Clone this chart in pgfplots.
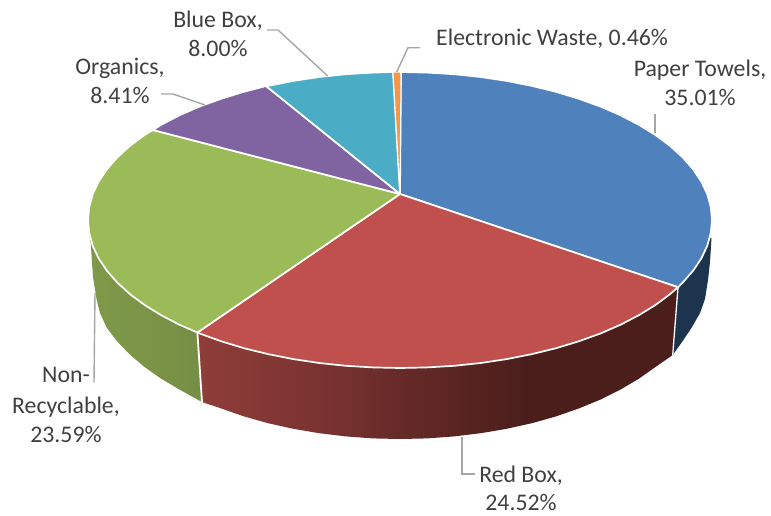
\documentclass[border=0pt]{standalone}
\usepackage{fontspec}
\setmainfont{Carlito}
\usepackage{pgfplots}
\pgfplotsset{compat=1.18}
\definecolor{lbl}{HTML}{404040}
\definecolor{lead}{HTML}{A6A6A6}
\definecolor{pBlue}{HTML}{4F81BD}
\definecolor{pRed}{HTML}{C0504D}
\definecolor{pGreen}{HTML}{9BBB59}
\definecolor{pPurple}{HTML}{8064A2}
\definecolor{pTeal}{HTML}{4BACC6}
\definecolor{pOrange}{HTML}{F79646}
\definecolor{sNavy}{HTML}{1D344F}
% wall of the red slice darkens from left to right
\pgfdeclarehorizontalshading{redwall}{100bp}{
  rgb(0bp)=(0.56,0.24,0.225); rgb(25bp)=(0.56,0.24,0.225);
  rgb(39bp)=(0.47,0.195,0.19); rgb(46bp)=(0.40,0.165,0.155);
  rgb(59bp)=(0.295,0.118,0.11); rgb(75bp)=(0.295,0.118,0.11);
  rgb(100bp)=(0.295,0.118,0.11)}
\begin{document}
\begin{tikzpicture}
\begin{axis}[
  hide axis, scale only axis, width=771pt, height=515pt,
  xmin=0, xmax=771, ymin=0, ymax=515, y dir=reverse, clip=false,
]
% invisible frame that fixes the page extent
\addplot[draw=none] coordinates {(0,0)(771,515)};

% pie walls
\addplot[fill=sNavy, draw=none] coordinates {
  (711.5,238)(710,262)(708,280)(705,299)(700,313)(692,327)(682,342)(672.7,355)(678,287.2)(600,240)(711.5,238)};
\addplot[shade, shading=redwall, draw=none] coordinates {
  (197.4,332.5)(202,402)(221,408.4)(244,416.4)(268.1,423.2)(293.3,428.8)(319.3,433.2)(345.8,436.4)(372.8,438.4)(400,439)
  (427.2,438.4)(454.2,436.4)(480.7,433.2)(506.7,428.8)(531.9,423.2)(556,416.4)(579,408.4)(600.6,399.5)(620.6,389.5)(639,378.6)(655.6,366.9)(672.7,355)
  (678,287.2)(400,300)(197.4,332.5)};
\addplot[shade, left color=pGreen!82!black, right color=pGreen!76!black, draw=none] coordinates {
  (88.5,232)(90.7,243)(93,277)(96.7,300)(100,313)(106.8,327.8)(117.2,341.4)(129.8,354.5)(144.4,366.9)(161,378.6)(179.4,389.5)(202,402)
  (197.4,332.5)(150,260)(88.5,232)};
% white seams on the walls
\addplot[white, line width=1.8pt] coordinates {(197.4,332.5)(202,402)};
\addplot[white, line width=1.3pt] coordinates {(678,287.2)(672.7,355)};

% pie top, one closed outline per slice
\addplot[fill=pBlue, draw=white, line width=1.7pt] coordinates {
  (400,194)(401,72)(427.2,72.6)(454.2,74.2)(480.7,77)(506.7,80.9)(531.9,85.9)(556,91.8)(579,98.8)(600.6,106.6)(620.6,115.3)(639,124.9)(655.6,135.1)(670.2,146)(682.8,157.5)(693.2,169.4)(701.4,181.7)(707.3,194.3)(710.8,207.1)(712,220)
  (710.8,232.9)(707.3,245.7)(701.4,258.3)(693.2,270.6)(682.8,282.5)(678,287.2)(400,194)};
\addplot[fill=pRed, draw=white, line width=1.7pt] coordinates {
  (400,194)(678,287.2)(670.2,294)(655.6,304.9)(639,315.1)(620.6,324.7)(600.6,333.4)(579,341.2)(556,348.2)(531.9,354.1)(506.7,359.1)(480.7,363)(454.2,365.8)(427.2,367.4)(400,368)
  (372.8,367.4)(345.8,365.8)(319.3,363)(293.3,359.1)(268.1,354.1)(244,348.2)(221,341.2)(199.4,333.4)(197.4,332.5)(400,194)};
\addplot[fill=pGreen, draw=white, line width=1.7pt] coordinates {
  (400,194)(197.4,332.5)(179.4,324.7)(161,315.1)(144.4,304.9)(129.8,294)(117.2,282.5)(106.8,270.6)(98.6,258.3)(92.7,245.7)(89.2,232.9)(88,220)
  (89.2,207.1)(92.7,194.3)(98.6,181.7)(106.8,169.4)(117.2,157.5)(129.8,146)(144.4,135.1)(153,130)(400,194)};
\addplot[fill=pPurple, draw=white, line width=1.7pt] coordinates {
  (400,194)(153,130)(161,124.9)(179.4,115.3)(199.4,106.6)(221,98.8)(244,91.8)(266,86)(400,194)};
\addplot[fill=pTeal, draw=white, line width=1.7pt] coordinates {
  (400,194)(266,86)(268.1,85.9)(293.3,80.9)(319.3,77)(345.8,74.2)(372.8,72.6)(393,72)(400,194)};
\addplot[fill=pOrange, draw=white, line width=1pt] coordinates {
  (400,194)(393,72)(401,72)(400,194)};

% leader lines
\addplot[lead, line width=1.4pt] coordinates {(396.7,72)(408,47.7)(420,47.7)};
\addplot[lead, line width=1.4pt] coordinates {(655,133)(655,114)};
\addplot[lead, line width=1.4pt] coordinates {(267,30)(278,30)(327.7,76)};
\addplot[lead, line width=1.4pt] coordinates {(161,94)(173,94)(205,105)};
\addplot[lead, line width=1.4pt] coordinates {(95,293)(94,382.7)};
\addplot[lead, line width=1.4pt] coordinates {(462,437)(462,474)(475,474)};

% data labels
\begin{scope}[every node/.style={text=lbl, font=\fontsize{23.8}{28}\selectfont, inner sep=0pt, anchor=base}]
\node[anchor=base west] at (axis cs:436,45) {Electronic Waste, 0.46\%};
\node at (axis cs:700,76) {Paper Towels,};
\node at (axis cs:700,105) {35.01\%};
\node at (axis cs:218,27) {Blue Box,};
\node at (axis cs:218,56) {8.00\%};
\node at (axis cs:120,74) {Organics,};
\node at (axis cs:120,103) {8.41\%};
\node at (axis cs:66,382) {Non-};
\node at (axis cs:66,413) {Recyclable,};
\node at (axis cs:66,442) {23.59\%};
\node at (axis cs:521,482) {Red Box,};
\node at (axis cs:521,510) {24.52\%};
\end{scope}
\end{axis}
\end{tikzpicture}
\end{document}
